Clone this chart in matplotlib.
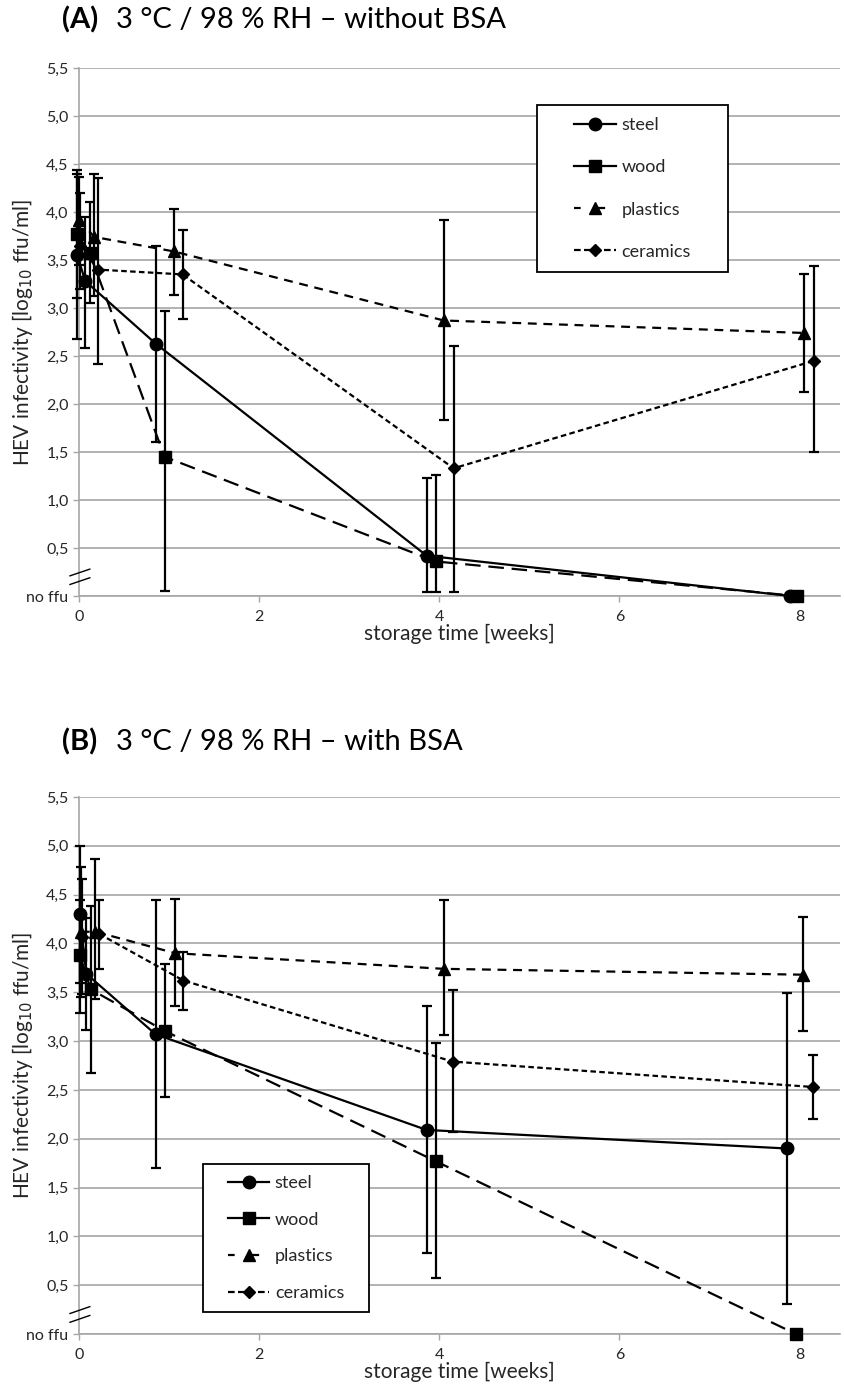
import numpy as np
import matplotlib.pyplot as plt
from matplotlib.lines import Line2D
from matplotlib.patches import Rectangle

plt.rcParams['font.family'] = ['Lato', 'DejaVu Sans']

materials = ["steel", "wood", "plastics", "ceramics"]

# storage time [weeks] of each measurement (slightly offset per material)
t_a = {
    "steel":    [-0.02, 0.07, 0.85, 3.86, 7.90],
    "wood":     [-0.02, 0.12, 0.95, 3.96, 7.97],
    "plastics": [0.00, 0.17, 1.05, 4.05, 8.05],
    "ceramics": [0.01, 0.21, 1.15, 4.16, 8.16],
}
# (A) 3 °C / 98 % RH - without BSA, log10 ffu/ml
y_a = {
    "steel":    [3.55, 3.28, 2.63, 0.42, 0.0],
    "wood":     [3.77, 3.57, 1.45, 0.36, 0.0],
    "plastics": [3.92, 3.74, 3.59, 2.87, 2.74],
    "ceramics": [3.65, 3.40, 3.35, 1.33, 2.45],
}
lo_a = {
    "steel":    [2.68, 2.58, 1.60, 0.04, 0.0],
    "wood":     [3.10, 3.05, 0.05, 0.04, 0.0],
    "plastics": [3.45, 3.12, 3.14, 1.83, 2.13],
    "ceramics": [3.20, 2.42, 2.89, 0.04, 1.50],
}
hi_a = {
    "steel":    [4.40, 3.95, 3.65, 1.23, 0.0],
    "wood":     [4.44, 4.10, 2.97, 1.26, 0.0],
    "plastics": [4.36, 4.40, 4.03, 3.92, 3.35],
    "ceramics": [4.20, 4.35, 3.81, 2.60, 3.44],
}

t_b = {
    "steel":    [0.01, 0.08, 0.85, 3.86, 7.86],
    "wood":     [0.01, 0.13, 0.96, 3.96, 7.96],
    "plastics": [0.02, 0.18, 1.07, 4.05, 8.04],
    "ceramics": [0.03, 0.22, 1.16, 4.15, 8.15],
}
# (B) 3 °C / 98 % RH - with BSA
y_b = {
    "steel":    [4.30, 3.69, 3.07, 2.09, 1.90],
    "wood":     [3.88, 3.53, 3.10, 1.77, 0.0],
    "plastics": [4.12, 4.12, 3.90, 3.74, 3.68],
    "ceramics": [4.07, 4.10, 3.62, 2.79, 2.53],
}
lo_b = {
    "steel":    [3.60, 3.11, 1.70, 0.83, 0.31],
    "wood":     [3.29, 2.67, 2.43, 0.57, 0.0],
    "plastics": [3.45, 3.43, 3.36, 3.06, 3.10],
    "ceramics": [3.48, 3.74, 3.32, 2.07, 2.20],
}
hi_b = {
    "steel":    [5.00, 4.26, 4.44, 3.36, 3.49],
    "wood":     [4.45, 4.38, 3.79, 2.98, 0.0],
    "plastics": [4.78, 4.87, 4.46, 4.44, 4.27],
    "ceramics": [4.66, 4.45, 3.91, 3.52, 2.86],
}

yticks = [0, 0.5, 1.0, 1.5, 2.0, 2.5, 3.0, 3.5, 4.0, 4.5, 5.0, 5.5]
ytick_labels = ["no ffu", "0,5", "1,0", "1,5", "2,0", "2,5", "3,0", "3,5",
                "4,0", "4,5", "5,0", "5,5"]
xticks = [0, 2, 4, 6, 8]

styles = {
    "steel":    dict(marker="o", ms=9, ls="-"),
    "wood":     dict(marker="s", ms=8.5, ls=(0, (7, 3.5))),
    "plastics": dict(marker="^", ms=8, ls=(0, (4, 3))),
    "ceramics": dict(marker="D", ms=6, ls=(0, (2.5, 1.5))),
}
legend_styles = {
    "steel":    dict(marker="o", ms=9, ls="-"),
    "wood":     dict(marker="s", ms=8.5, ls="-"),
    "plastics": dict(marker="^", ms=8, ls=(1, (4, 7))),
    "ceramics": dict(marker="D", ms=6, ls=(0, (3, 1.5))),
}
grid_col = "#a6a6a6"
text_col = "#262626"

fig = plt.figure(figsize=(8.44, 14), dpi=100)
W, H = 844, 1400


def panel(rect, title, t, y, lo, hi, leg_box, leg_spacing):
    x0, top, x1, bottom = rect
    ax = fig.add_axes([x0 / W, 1 - bottom / H, (x1 - x0) / W, (bottom - top) / H])
    for m in materials:
        yy = np.array(y[m])
        err = [yy - np.array(lo[m]), np.array(hi[m]) - yy]
        st = styles[m]
        ax.errorbar(t[m], yy, yerr=err, color="black", lw=1.6,
                    ls=st["ls"], marker=st["marker"], ms=st["ms"],
                    ecolor="black", elinewidth=1.6, capsize=3.5, capthick=1.6,
                    clip_on=False, zorder=3)
    ax.set_xlim(0, 8.45)
    ax.set_ylim(0, 5.5)
    ax.set_yticks(yticks)
    ax.set_yticklabels(ytick_labels)
    ax.set_xticks(xticks)
    ax.yaxis.grid(True, color=grid_col, lw=1.2)
    ax.set_axisbelow(True)
    for s in ["top", "right"]:
        ax.spines[s].set_visible(False)
    for s in ["left", "bottom"]:
        ax.spines[s].set_color(grid_col)
        ax.spines[s].set_linewidth(1.2)
    ax.tick_params(axis="both", colors=grid_col, labelcolor=text_col,
                   labelsize=11.5, length=4, width=1)
    ax.tick_params(axis="x", pad=6)
    ax.set_xlabel("storage time [weeks]", fontsize=15, color=text_col, labelpad=0)
    ax.set_ylabel("HEV infectivity [log$_{10}$ ffu/ml]", fontsize=15,
                  color=text_col)
    ax.yaxis.set_label_coords(-0.058, 0.5)
    # axis break marks on the y axis
    for yb in (0.12, 0.21):
        ax.plot([-0.1, 0.12], [yb, yb + 0.07], color="black", lw=1.0,
                clip_on=False, zorder=4)

    # legend inside a framed box
    bx0, by0, bx1, by1 = leg_box
    ax.add_patch(Rectangle((bx0 / W, 1 - by1 / H), (bx1 - bx0) / W,
                           (by1 - by0) / H, transform=fig.transFigure,
                           facecolor="white", edgecolor="black", lw=1.3,
                           clip_on=False, zorder=5))
    handles = [Line2D([], [], color="black", lw=1.6, label=m, **legend_styles[m])
               for m in materials]
    leg = ax.legend(handles=handles, loc="center",
                    bbox_to_anchor=((bx0 + bx1) / 2 / W, 1 - (by0 + by1) / 2 / H),
                    bbox_transform=fig.transFigure, frameon=False,
                    fontsize=13, labelspacing=leg_spacing,
                    handlelength=2.3, handletextpad=0.3, borderpad=0,
                    borderaxespad=0)
    leg.set_zorder(6)
    for txt in leg.get_texts():
        txt.set_color(text_col)

    fig.text(62 / W, 1 - title[2] / H, title[0], fontsize=21, fontweight="bold",
             va="center", ha="left")
    fig.text(116 / W, 1 - title[2] / H, title[1], fontsize=21,
             va="center", ha="left")
    return ax


panel((79, 68, 840, 596), ("(A)", "3 °C / 98 % RH – without BSA", 20),
      t_a, y_a, lo_a, hi_a, (537, 105, 728, 272), 1.45)
panel((79, 797, 840, 1334), ("(B)", "3 °C / 98 % RH – with BSA", 742),
      t_b, y_b, lo_b, hi_b, (203, 1164, 369, 1312), 1.15)

fig.savefig("out.png", dpi=100)
